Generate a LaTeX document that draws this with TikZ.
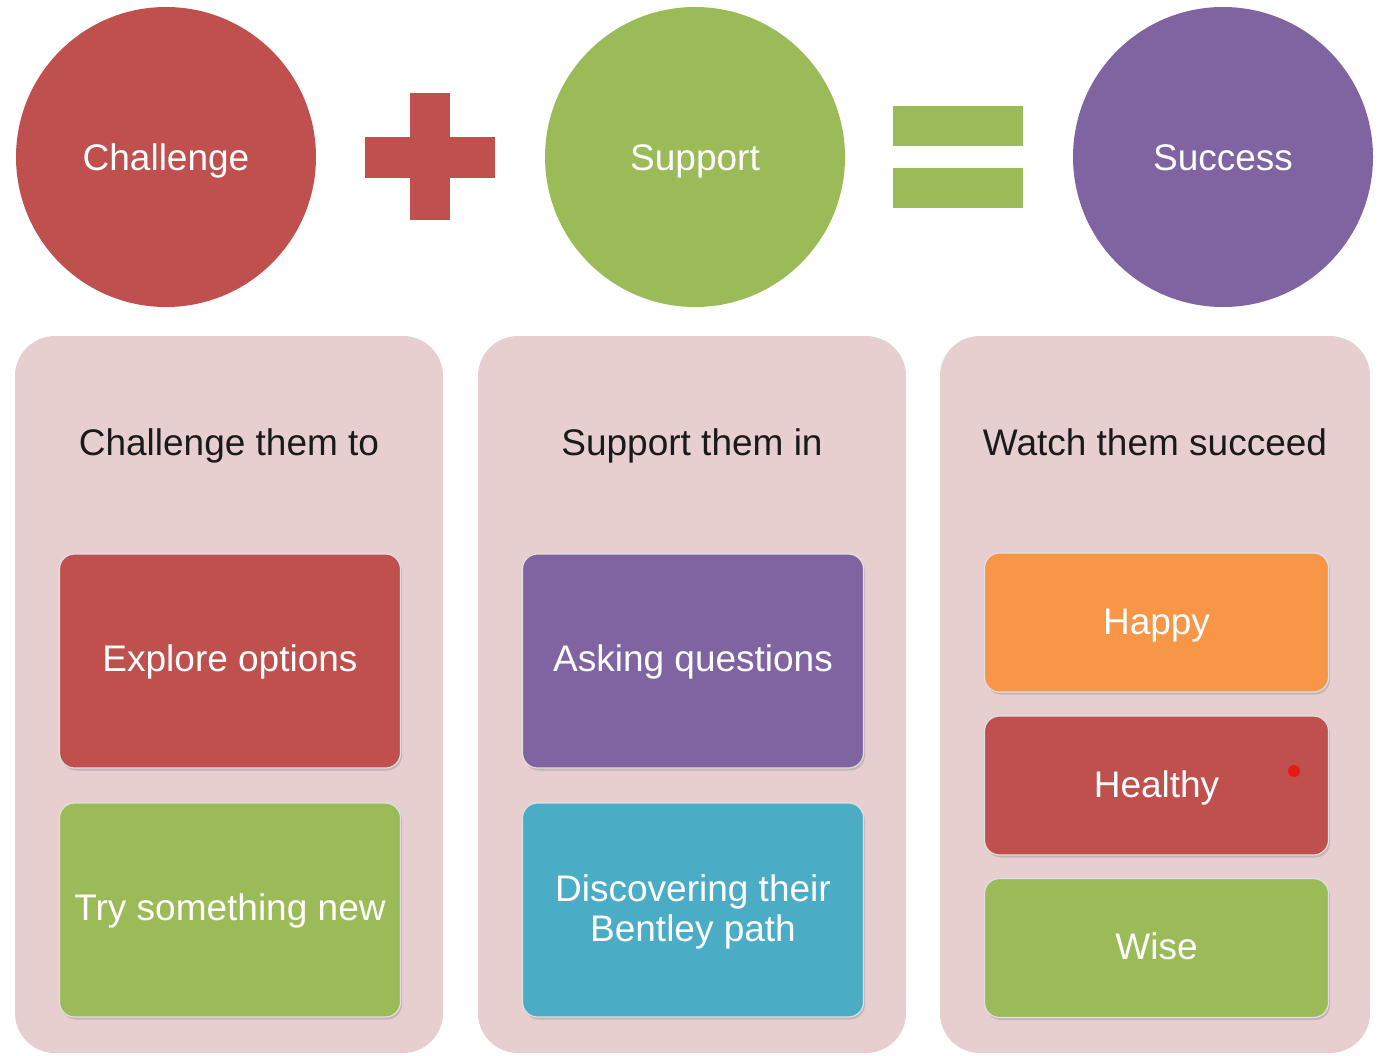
\documentclass[tikz,border=0pt]{standalone}
\usepackage{fontspec}
\setmainfont{Liberation Sans}
\usetikzlibrary{shadows}
\definecolor{cred}{HTML}{C0504D}
\definecolor{cgreen}{HTML}{9BBB59}
\definecolor{cpurple}{HTML}{8064A2}
\definecolor{ccyan}{HTML}{4BACC6}
\definecolor{corange}{HTML}{F79646}
\definecolor{cpanel}{HTML}{E7CFD0}
\definecolor{ctitle}{HTML}{1A1A1A}
\definecolor{cdot}{HTML}{E81818}
\begin{document}
\begin{tikzpicture}[x=1pt,y=-1pt,
  bigfont/.style={font=\fontsize{37}{40}\selectfont},
  oneline/.style={text height=26pt, text depth=0pt},
  circ/.style={circle, minimum size=300pt, inner sep=0pt, text=white, bigfont, oneline},
  panel/.style={rounded corners=40pt, fill=cpanel, minimum width=428pt, minimum height=717pt, inner sep=0pt},
  title/.style={text=ctitle, bigfont, oneline},
  boxbase/.style={rounded corners=15pt, draw=white!88!black, line width=1.2pt, text=white, bigfont,
    minimum width=341pt, inner sep=0pt,
    drop shadow={shadow xshift=1.5pt, shadow yshift=-2.5pt, opacity=0.25, fill=black!60}},
  tallbox/.style={boxbase, text height=20pt, text depth=0pt, minimum height=214pt},
  twolinebox/.style={boxbase, minimum height=214pt},
  shortbox/.style={boxbase, text height=23pt, text depth=0pt, minimum height=139pt, minimum width=344pt},
  bar/.style={inner sep=0pt}
]
\useasboundingbox (0,0) rectangle (1388,1055);
% circles
\node[circ, fill=cred] (c1) at (166,157) {Challenge};
\node[circ, fill=cgreen] (c2) at (695,157) {Support};
\node[circ, fill=cpurple] (c3) at (1223,157) {Success};
% plus
\node[bar, fill=cred, minimum width=40pt, minimum height=127pt] (pv) at (430,156.5) {};
\node[bar, fill=cred, minimum width=130pt, minimum height=41pt] (ph) at (430,157.5) {};
% equals
\node[bar, fill=cgreen, minimum width=130pt, minimum height=40pt] (e1) at (958,126) {};
\node[bar, fill=cgreen, minimum width=130pt, minimum height=40pt] (e2) at (958,188) {};
% panels
\node[panel] (p1) at (229,694.5) {};
\node[panel] (p2) at (692,694.5) {};
\node[panel, minimum width=430pt] (p3) at (1155,694.5) {};
% titles
\node[title] (t1) at (229,442) {Challenge them to};
\node[title] (t2) at (692,442) {Support them in};
\node[title] (t3) at (1155,442) {Watch them succeed};
% boxes
\node[tallbox, fill=cred] (b1) at (230,661) {Explore options};
\node[tallbox, fill=cgreen] (b2) at (230,910) {Try something new};
\node[tallbox, fill=cpurple] (b3) at (693,661) {Asking questions};
\node[twolinebox, fill=ccyan] (b4) at (693,910) {\raisebox{-3pt}[\height][\depth]{\begin{tabular}{@{}c@{}}Discovering their\\Bentley path\end{tabular}}};
\node[shortbox, fill=corange] (b5) at (1156.5,622.5) {Happy};
\node[shortbox, fill=cred] (b6) at (1156.5,785.5) {Healthy};
\node[shortbox, fill=cgreen] (b7) at (1156.5,948) {Wise};
\fill[cdot] (1294,771) circle (6pt);
\end{tikzpicture}
\end{document}
